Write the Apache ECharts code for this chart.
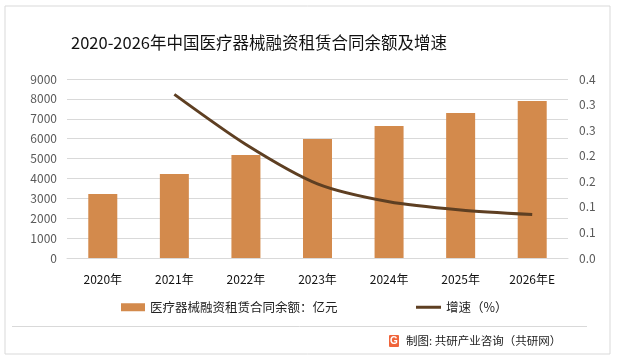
<!DOCTYPE html>
<html>
<head>
<meta charset="utf-8">
<script src="https://cdn.jsdelivr.net/npm/echarts@6/dist/echarts.min.js"></script>
<style>
html,body{margin:0;padding:0;background:#fff;}
#c{width:617px;height:360px;}
</style>
</head>
<body>
<div id="c"></div>
<script>
var categories = ['2020年','2021年','2022年','2023年','2024年','2025年','2026年E'];
var balance = [3220, 4220, 5180, 5980, 6640, 7290, 7890];
var growth = [null, 0.32, 0.222, 0.145, 0.11, 0.094, 0.085];
var rightTickLabels = ['0.0','0.1','0.1','0.2','0.2','0.3','0.3','0.4'];
var barName = '医疗器械融资租赁合同余额：亿元';
var lineName = '增速（%）';

var FONT = '"Noto Sans CJK SC","Noto Sans",sans-serif';
var chart = echarts.init(document.getElementById('c'), null, {renderer:'canvas'});
chart.setOption({
  backgroundColor:'#fff',
  animation:false,
  textStyle:{fontFamily:FONT},
  title:{
    text:'2020-2026年中国医疗器械融资租赁合同余额及增速',
    left:66, top:29,
    textStyle:{fontFamily:FONT,fontSize:16.5,fontWeight:'normal',color:'#111'}
  },
  legend:[{
    data:[{name:barName, icon:'rect'}],
    left:116, top:296, itemWidth:24, itemHeight:8, itemGap:4,
    textStyle:{fontFamily:FONT,fontSize:12.5,color:'#222'}
  },{
    data:[{name:lineName, icon:'rect'}],
    left:411, top:296, itemWidth:25, itemHeight:3, itemGap:2,
    textStyle:{fontFamily:FONT,fontSize:12.5,color:'#222'}
  }],
  grid:{left:67, right:49, top:79, bottom:102, containLabel:false},
  xAxis:{
    type:'category', data:categories,
    axisLine:{show:true,lineStyle:{color:'#D9D9D9'}},
    axisTick:{show:false},
    axisLabel:{color:'#111',fontSize:12,margin:15,fontFamily:FONT}
  },
  yAxis:[{
    type:'value', min:0, max:9000, interval:1000,
    axisLine:{show:false}, axisTick:{show:false},
    splitLine:{lineStyle:{color:'#D9D9D9',width:1}},
    axisLabel:{color:'#595959',fontSize:12,margin:10,fontFamily:FONT,
      formatter:function(v){return String(v);}}
  },{
    type:'value', min:0, max:0.35, interval:0.05,
    alignTicks:false,
    axisLine:{show:false}, axisTick:{show:false},
    splitLine:{show:false},
    axisLabel:{color:'#595959',fontSize:12,margin:11,fontFamily:FONT,
      formatter:function(v){var i=Math.round(v/0.05);return rightTickLabels[i]!==undefined?rightTickLabels[i]:'';}}
  }],
  series:[{
    name:barName, type:'bar', data:balance, barWidth:29,
    itemStyle:{color:'#D38A4C'}
  },{
    name:lineName, type:'line', yAxisIndex:1, data:growth,
    smooth:0.25, symbol:'none', connectNulls:false,
    lineStyle:{color:'#5E3F22',width:3},
    itemStyle:{color:'#5E3F22'}
  }],
  graphic:[
    {type:'rect', shape:{x:5,y:6,width:605,height:348}, style:{fill:'none',stroke:'#D9D9D9',lineWidth:1}, silent:true},
    {type:'line', shape:{x1:12,y1:326.5,x2:587,y2:326.5}, style:{stroke:'#D9D9D9',lineWidth:1}, silent:true},
    {type:'rect', shape:{x:389,y:335,width:10,height:12,r:1}, style:{fill:'#F0643A'}, silent:true},
    {type:'text', x:394, y:341, style:{text:'G',fill:'#fff',font:'bold 10px sans-serif',align:'center',verticalAlign:'middle'}, silent:true},
    {type:'text', x:406, y:341, style:{text:'制图: 共研产业咨询（共研网）',fill:'#222',font:'11.5px '+FONT,verticalAlign:'middle'}, silent:true}
  ]
});
</script>
</body>
</html>
